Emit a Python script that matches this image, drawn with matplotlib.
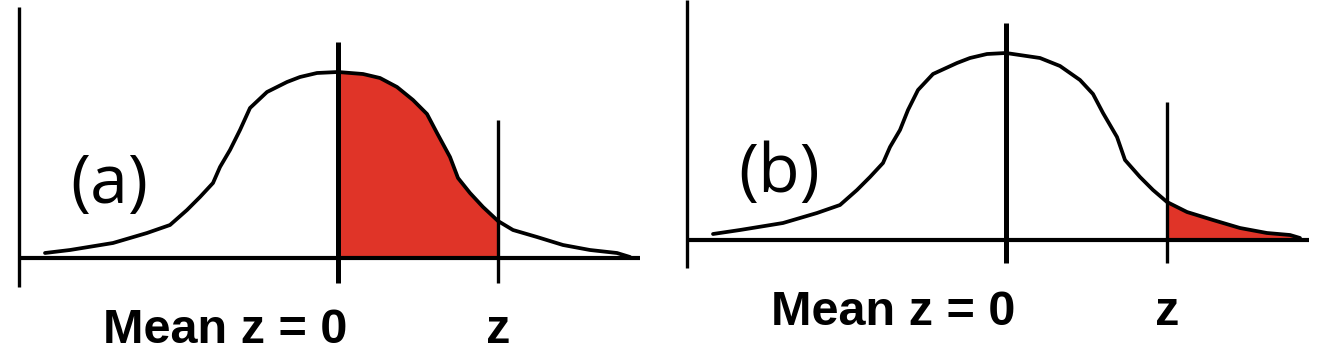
import numpy as np
import matplotlib.pyplot as plt

# Curve outlines (pixel-like units, y grows downward)
a_x = [45, 70, 113, 147, 170, 187, 200, 213, 220, 230, 240, 250, 267, 287, 300, 317, 338,
       363, 380, 397, 413, 427, 437, 450, 458, 470, 483, 498, 513, 537, 563, 590, 617, 630]
a_y = [253, 250, 243, 233, 225, 210, 197, 183, 167, 150, 130, 108, 92, 82, 77, 73, 72,
       74, 78, 87, 100, 114, 133, 157, 178, 193, 207, 221, 230, 237, 245, 250, 253, 257]

b_x = [713, 740, 783, 817, 840, 857, 870, 883, 890, 900, 908, 918, 933, 957, 970, 987, 1006,
       1040, 1060, 1080, 1093, 1103, 1117, 1125, 1140, 1153, 1167, 1187, 1213, 1240, 1267, 1290, 1300]
b_y = [234, 230, 223, 213, 205, 190, 177, 163, 147, 130, 110, 90, 74, 63, 58, 54, 53,
       58, 66, 80, 94, 113, 137, 160, 177, 190, 202, 212, 220, 228, 233, 235, 238]

panel_labels = ["(a)", "(b)"]
mean_label = "Mean z = 0"
z_label = "z"

red = "#E03428"

fig = plt.figure(figsize=(13.32, 3.62), dpi=100)
ax = fig.add_axes([0, 0, 1, 1])
ax.set_xlim(0, 1332)
ax.set_ylim(362, 0)
ax.axis("off")


def panel(xs, ys, left, base, right, axis_top, axis_bot, mean_x, mean_top, z_x, z_top,
          tick_bot, shade, label, label_xy, text_y):
    xs = np.array(xs)
    ys = np.array(ys)
    # axes lines
    ax.plot([left, left], [axis_top, axis_bot], color="black", lw=2.4, solid_capstyle="butt")
    ax.plot([left, right], [base, base], color="black", lw=3, solid_capstyle="butt")
    # shaded region
    mask = (xs >= shade[0]) & (xs <= shade[1])
    ax.fill_between(xs, ys, base, where=mask, color=red, lw=0)
    # curve
    ax.plot(xs, ys, color="black", lw=2.7, solid_joinstyle="round", solid_capstyle="round")
    # mean and z lines
    ax.plot([mean_x, mean_x], [mean_top, tick_bot], color="black", lw=3.6, solid_capstyle="butt")
    ax.plot([z_x, z_x], [z_top, tick_bot], color="black", lw=2.4, solid_capstyle="butt")
    # texts
    ax.text(label_xy[0], label_xy[1], label, fontsize=49, family="Open Sans",
            ha="center", va="center")
    ax.text(mean_x + 9, text_y, mean_label, fontsize=35, fontweight="bold",
            family="Liberation Sans", ha="right", va="baseline")
    ax.text(z_x, text_y, z_label, fontsize=35, fontweight="bold",
            family="Liberation Sans", ha="center", va="baseline")


panel(a_x, a_y, 19, 258, 640, 7, 287, 338, 42, 498, 120, 283, (338, 498),
      panel_labels[0], (109, 185), 343)
panel(b_x, b_y, 687, 240, 1309, 0, 268, 1006, 23, 1167, 102, 263, (1167, 1300),
      panel_labels[1], (779, 174), 325)

fig.savefig("out.png", dpi=100)
